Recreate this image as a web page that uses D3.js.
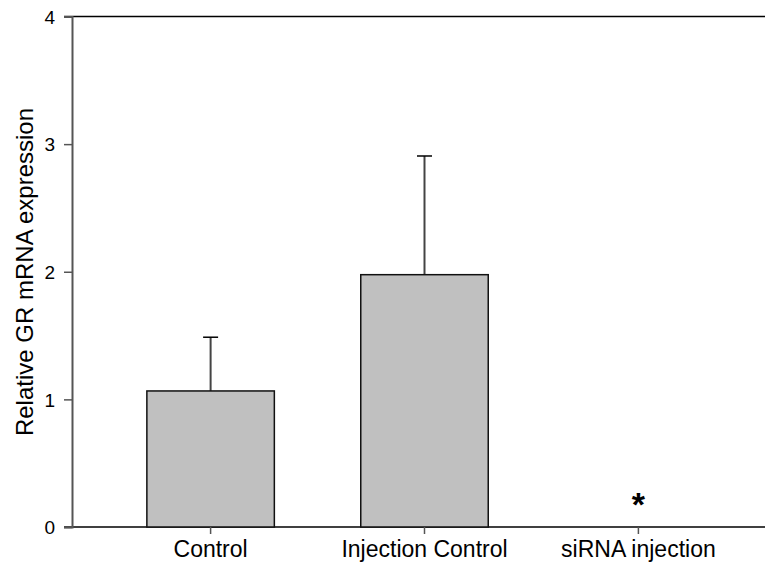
<!DOCTYPE html>
<html>
    <head>
        <meta charset="utf-8">
        <style>
            html, body {
                margin: 0px;
                padding: 0px;
                background-color: #fff;
                font-family: Arial, "Liberation Sans", sans-serif;
            }

            svg text {
                fill: #000;
            }

            .verticalAxis text {
                font-size: 19px;
            }

            .verticalAxis line, .horizontalAxis line {
                stroke: #555;
                stroke-width: 1.5;
            }

            .horizontalAxis text {
                font-size: 23px;
            }
        </style>
        <script src="https://cdn.jsdelivr.net/npm/d3@7"></script>
    </head>
    <body>
        <div id="main"></div>

        <script>
            var categories = ["Control", "Injection Control", "siRNA injection"];
            var means = [1.066, 1.977, 0];
            var errors = [0.421, 0.93, 0];
            var marks = ["", "", "*"];
            var yTicks = [0, 1, 2, 3, 4];

            var width = 765;
            var height = 570;

            function chart(svg) {
                var y = d3.scaleLinear()
                            .domain([0, 4])
                            .range([527, 16.5]);

                var x = d3.scaleBand()
                            .domain(categories)
                            .range([72, 777])
                            .paddingInner(0.404)
                            .paddingOuter(0.35);

                var data = categories.map(function(c, i) {
                    return { name: c, mean: means[i], err: errors[i], mark: marks[i] };
                });

                // frame lines top and bottom
                svg.append("line")
                    .attr("x1", 64).attr("x2", width)
                    .attr("y1", y(4)).attr("y2", y(4))
                    .attr("stroke", "#000").attr("stroke-width", 1.5);

                svg.append("line")
                    .attr("x1", 64).attr("x2", width)
                    .attr("y1", y(0)).attr("y2", y(0))
                    .attr("stroke", "#000").attr("stroke-width", 1.5);

                var node = svg.selectAll(".bar")
                    .data(data)
                    .enter()
                    .append("g")
                    .attr("class", "bar");

                node.filter(function(d) { return d.err > 0; })
                    .append("line")
                    .attr("x1", function(d) { return x(d.name) + x.bandwidth() / 2; })
                    .attr("x2", function(d) { return x(d.name) + x.bandwidth() / 2; })
                    .attr("y1", function(d) { return y(d.mean); })
                    .attr("y2", function(d) { return y(d.mean + d.err); })
                    .attr("stroke", "#444")
                    .attr("stroke-width", 2);

                node.filter(function(d) { return d.err > 0; })
                    .append("line")
                    .attr("x1", function(d) { return x(d.name) + x.bandwidth() / 2 - 7.5; })
                    .attr("x2", function(d) { return x(d.name) + x.bandwidth() / 2 + 7.5; })
                    .attr("y1", function(d) { return y(d.mean + d.err); })
                    .attr("y2", function(d) { return y(d.mean + d.err); })
                    .attr("stroke", "#000")
                    .attr("stroke-width", 1.5);

                node.filter(function(d) { return d.mean > 0; })
                    .append("rect")
                    .attr("x", function(d) { return x(d.name); })
                    .attr("y", function(d) { return y(d.mean); })
                    .attr("width", x.bandwidth())
                    .attr("height", function(d) { return y(0) - y(d.mean); })
                    .attr("fill", "#c0c0c0")
                    .attr("stroke", "#111")
                    .attr("stroke-width", 1.5);

                node.append("text")
                    .attr("x", function(d) { return x(d.name) + x.bandwidth() / 2; })
                    .attr("y", function(d) { return y(d.mean) - 11; })
                    .style("text-anchor", "middle")
                    .style("font-size", "34px")
                    .style("font-weight", "bold")
                    .text(function(d) { return d.mark; });

                var yAxis = svg.append("g")
                    .attr("class", "verticalAxis")
                    .attr("transform", "translate(72,0)")
                    .call(d3.axisLeft(y).tickValues(yTicks).tickFormat(d3.format("d")).tickSize(8).tickPadding(9));
                yAxis.select(".domain").attr("stroke", "#555").attr("stroke-width", 2);
                yAxis.selectAll("text").attr("dy", "0.36em");

                var xAxis = svg.append("g")
                    .attr("class", "horizontalAxis")
                    .attr("transform", "translate(0," + y(0) + ")")
                    .call(d3.axisBottom(x).tickSize(7).tickPadding(7));
                xAxis.select(".domain").remove();

                svg.append("text")
                    .attr("transform", "translate(33," + 272 + ") rotate(-90)")
                    .style("text-anchor", "middle")
                    .style("font-size", "24px")
                    .text("Relative GR mRNA expression");
            }

            var svg = d3.select("#main")
                        .append("svg")
                        .attr("width", width)
                        .attr("height", height);

            chart(svg);
        </script>
    </body>
</html>
